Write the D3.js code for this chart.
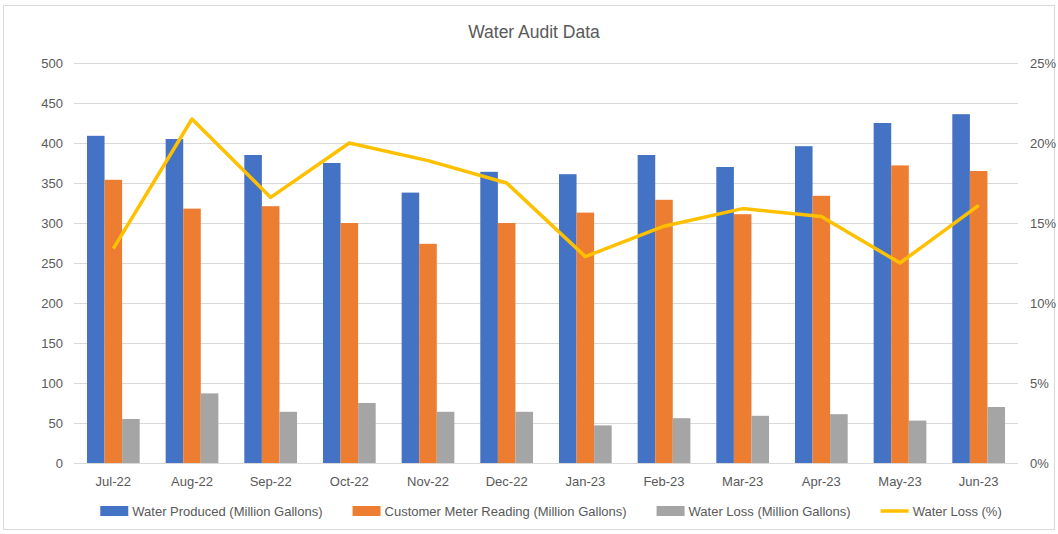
<!DOCTYPE html>
<html>
<head>
<meta charset="utf-8">
<script src="https://cdn.jsdelivr.net/npm/d3@7"></script>
<style>
  body { margin: 0; background: #fff; }
  svg text { font-family: "Liberation Sans", Arial, sans-serif; fill: #595959; }
</style>
</head>
<body>
<svg id="chart" width="1058" height="534"></svg>
<script>
const months = ["Jul-22", "Aug-22", "Sep-22", "Oct-22", "Nov-22", "Dec-22",
                "Jan-23", "Feb-23", "Mar-23", "Apr-23", "May-23", "Jun-23"];
const produced = [409, 405, 385, 375, 338, 364, 361, 385, 370, 396, 425, 436];
const metered = [354, 318, 321, 300, 274, 300, 313, 329, 311, 334, 372, 365];
const loss = [55, 87, 64, 75, 64, 64, 47, 56, 59, 61, 53, 70];
const lossPct = [13.4, 21.5, 16.6, 20.0, 18.9, 17.5, 12.9, 14.8, 15.9, 15.4, 12.5, 16.1];
const leftTicks = [0, 50, 100, 150, 200, 250, 300, 350, 400, 450, 500];
const rightTicks = [0, 5, 10, 15, 20, 25];
const seriesNames = ["Water Produced (Million Gallons)", "Customer Meter Reading (Million Gallons)",
                     "Water Loss (Million Gallons)", "Water Loss (%)"];
const colors = ["#4472C4", "#ED7D31", "#A5A5A5", "#FFC000"];

const svg = d3.select("#chart");
const W = 1058, H = 534;
const plotLeft = 74, plotRight = 1018, plotTop = 63, plotBottom = 463;

// chart border
svg.append("rect").attr("x", 3.5).attr("y", 5.5).attr("width", W - 7).attr("height", H - 10)
  .attr("fill", "#fff").attr("stroke", "#d9d9d9");

svg.append("text").attr("x", 534).attr("y", 38).attr("text-anchor", "middle")
  .style("font-size", "17.5px").text("Water Audit Data");

const x0 = d3.scaleBand().domain(months).range([plotLeft, plotRight]).paddingInner(0).paddingOuter(0);
const groupW = x0.bandwidth() * 0.67;
const x1 = d3.scaleBand().domain([0, 1, 2]).range([0, groupW]);
const y = d3.scaleLinear().domain([0, 500]).range([plotBottom, plotTop]);
const yR = d3.scaleLinear().domain([0, 25]).range([plotBottom, plotTop]);

// gridlines
svg.append("g").selectAll("line").data(leftTicks).join("line")
  .attr("x1", plotLeft).attr("x2", plotRight)
  .attr("y1", d => y(d) + 0.5).attr("y2", d => y(d) + 0.5)
  .attr("stroke", "#d9d9d9").attr("stroke-width", 1);

// left axis
const yAxis = svg.append("g").attr("transform", `translate(${plotLeft - 11},0)`)
  .call(d3.axisLeft(y).tickValues(leftTicks).tickSize(0).tickPadding(0));
yAxis.select(".domain").remove();
yAxis.selectAll("text").style("font-size", "13px").attr("fill", "#595959");

// right axis
const yAxisR = svg.append("g").attr("transform", `translate(${plotRight + 12},0)`)
  .call(d3.axisRight(yR).tickValues(rightTicks).tickSize(0).tickPadding(0).tickFormat(d => d + "%"));
yAxisR.select(".domain").remove();
yAxisR.selectAll("text").style("font-size", "13px").attr("fill", "#595959");

// x labels
svg.append("g").selectAll("text").data(months).join("text")
  .attr("x", d => x0(d) + x0.bandwidth() / 2).attr("y", 486)
  .attr("text-anchor", "middle").style("font-size", "13px").text(d => d);

// bars
const seriesVals = [produced, metered, loss];
const groups = svg.append("g").selectAll("g").data(months).join("g")
  .attr("transform", d => `translate(${x0(d) + (x0.bandwidth() - groupW) / 2},0)`);
groups.selectAll("rect").data((d, i) => seriesVals.map((s, k) => ({ k: k, v: s[i] }))).join("rect")
  .attr("x", d => x1(d.k)).attr("width", x1.bandwidth())
  .attr("y", d => y(d.v)).attr("height", d => y(0) - y(d.v))
  .attr("fill", d => colors[d.k]);

// line
const line = d3.line().x((d, i) => x0(months[i]) + x0.bandwidth() / 2).y(d => yR(d));
svg.append("path").datum(lossPct).attr("d", line)
  .attr("fill", "none").attr("stroke", colors[3]).attr("stroke-width", 3.5)
  .attr("stroke-linejoin", "round");

// legend
const legend = svg.append("g");
let lx = 0;
seriesNames.forEach((name, i) => {
  const g = legend.append("g").attr("transform", `translate(${lx},0)`);
  if (i < 3) {
    g.append("rect").attr("x", 0).attr("y", -5).attr("width", 28).attr("height", 10).attr("fill", colors[i]);
  } else {
    g.append("line").attr("x1", 0).attr("x2", 28).attr("y1", 0).attr("y2", 0)
      .attr("stroke", colors[i]).attr("stroke-width", 3.5);
  }
  const t = g.append("text").attr("x", 32).attr("y", 5).style("font-size", "13px").text(name);
  lx += 32 + t.node().getComputedTextLength() + 30;
});
const legendW = lx - 30;
legend.attr("transform", `translate(${551 - legendW / 2},511)`);
</script>
</body>
</html>
